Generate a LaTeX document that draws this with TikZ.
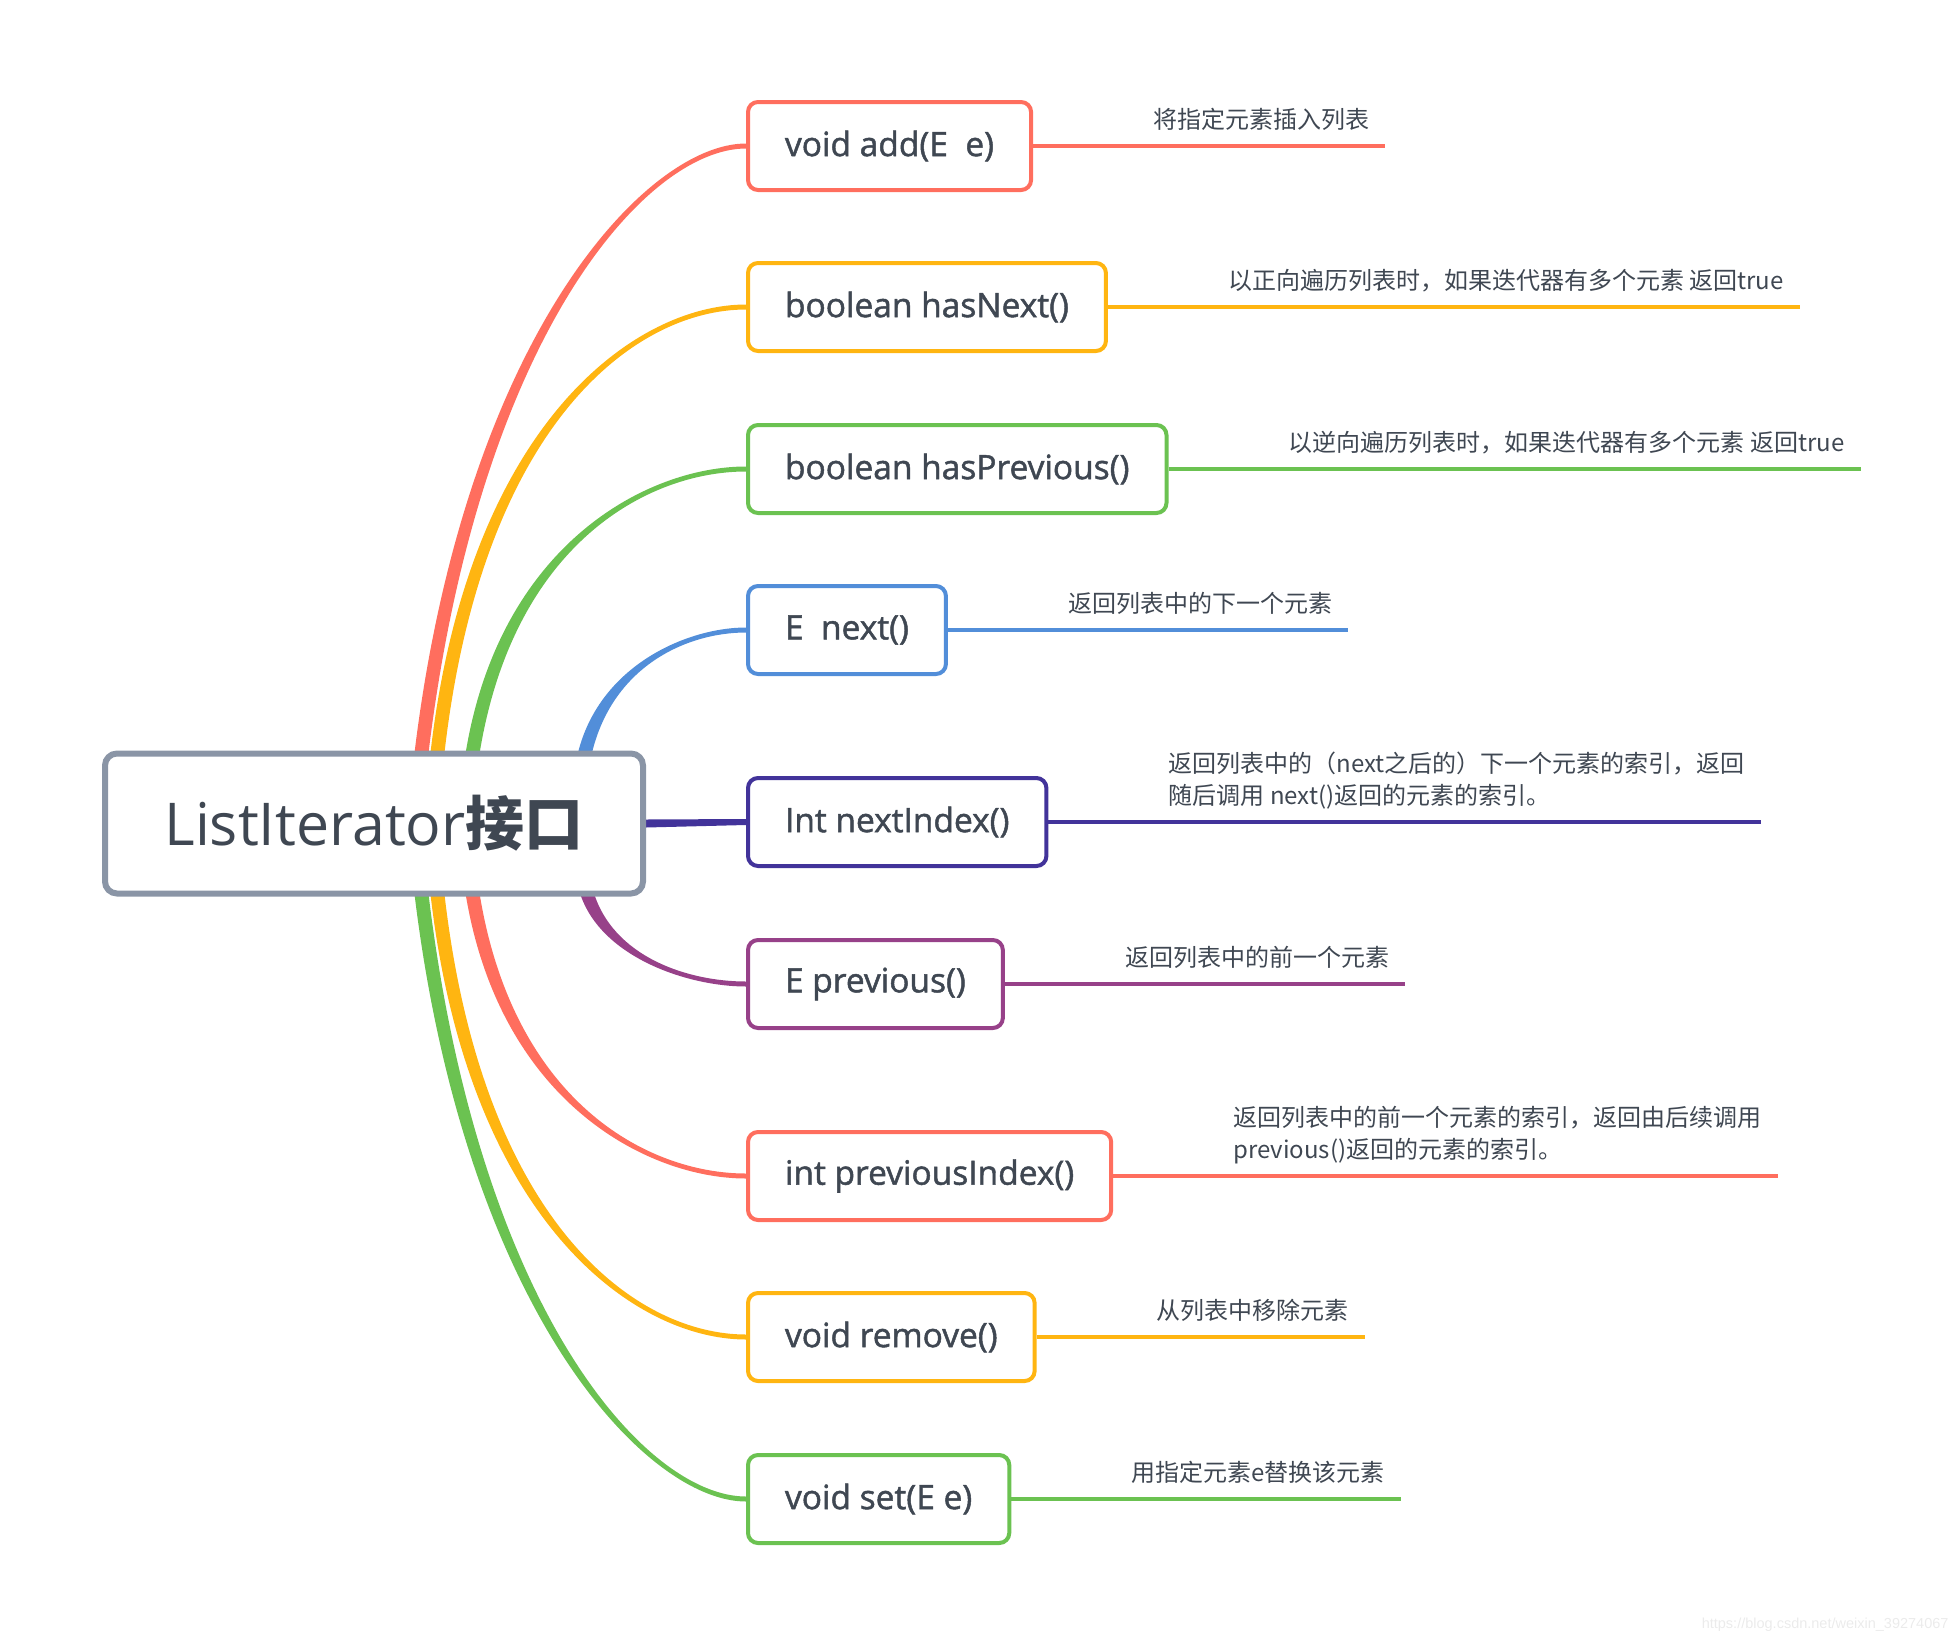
\documentclass[tikz,border=0pt]{standalone}
\usepackage{fontspec}
\setmainfont{Open Sans}
\newfontfamily\cjk{Noto Sans CJK SC}
\newfontfamily\topicfont[FakeBold=1.4]{Open Sans}
\newfontfamily\wmfont{Liberation Sans}
\usepackage{tikz}
\usetikzlibrary{positioning, backgrounds}

\definecolor{mmred}{HTML}{FF6E5E}
\definecolor{mmorange}{HTML}{FFB511}
\definecolor{mmgreen}{HTML}{6BC251}
\definecolor{mmblue}{HTML}{528ED9}
\definecolor{mmindigo}{HTML}{42339A}
\definecolor{mmpurple}{HTML}{974189}
\definecolor{mmgray}{HTML}{8A95A6}
\definecolor{mmtext}{HTML}{3F4752}

\tikzset{
  rootbox/.style={rectangle, rounded corners=12pt, draw=mmgray, line width=6pt, fill=white,
                  text=mmtext, minimum width=538pt, minimum height=140pt,
                  font=\fontsize{59}{70}\selectfont},
  topic/.style={rectangle, rounded corners=10pt, draw=#1, line width=4pt, fill=white,
                text=mmtext, anchor=west, inner xsep=37pt, minimum height=88pt,
                font=\topicfont\fontsize{33.5}{40}\selectfont},
  note/.style={text=mmtext, inner xsep=0pt, inner ysep=9pt, text depth=8pt, align=left,
               font=\cjk\fontsize{24}{32.5}\selectfont},
  noteline/.style={line width=3.5pt, draw=#1},
  wmark/.style={text=black!8, font=\wmfont\fontsize{14.5}{17}\selectfont},
}

\begin{document}
\begin{tikzpicture}[x=1pt, y=-1pt]
  \useasboundingbox (0,0) rectangle (1960,1644);

  %% ---- ROOT ----
  \node[rootbox] (root) at (374,823.5) {ListIterator{\cjk\bfseries 接口}};

  %% ---- TOPICS ----
  \node[topic=mmred]    (add)     at (746,146)  {void add(E\ \ e)};
  \node[topic=mmorange] (hasnext) at (746,307)  {boolean hasNext()};
  \node[topic=mmgreen]  (hasprev) at (746,469)  {boolean hasPrevious()};
  \node[topic=mmblue]   (next)    at (746,630)  {E\ \ next()};
  \node[topic=mmindigo] (nextidx) at (746,822)  {Int nextIndex()};
  \node[topic=mmpurple] (prev)    at (746,984)  {E previous()};
  \node[topic=mmred]    (previdx) at (746,1176) {int previousIndex()};
  \node[topic=mmorange] (remove)  at (746,1337) {void remove()};
  \node[topic=mmgreen]  (set)     at (746,1499) {void set(E e)};

  %% ---- NOTES ----
  \node[note, above right=0pt and 120pt of add.east]     (addnote)     {将指定元素插入列表};
  \node[note, above right=0pt and 120pt of hasnext.east] (hasnextnote) {以正向遍历列表时，如果迭代器有多个元素 返回true};
  \node[note, above right=0pt and 120pt of hasprev.east] (hasprevnote) {以逆向遍历列表时，如果迭代器有多个元素 返回true};
  \node[note, above right=0pt and 120pt of next.east]    (nextnote)    {返回列表中的下一个元素};
  \node[note, above right=0pt and 120pt of nextidx.east] (nextidxnote) {返回列表中的（next之后的）下一个元素的索引，返回\\随后调用 next()返回的元素的索引。};
  \node[note, above right=0pt and 120pt of prev.east]    (prevnote)    {返回列表中的前一个元素};
  \node[note, above right=0pt and 120pt of previdx.east] (previdxnote) {返回列表中的前一个元素的索引，返回由后续调用\\previous()返回的元素的索引。};
  \node[note, above right=0pt and 120pt of remove.east]  (removenote)  {从列表中移除元素};
  \node[note, above right=0pt and 120pt of set.east]     (setnote)     {用指定元素e替换该元素};

  \draw[noteline=mmred]    (add.east)     -- ([xshift=16pt]addnote.south east);
  \draw[noteline=mmorange] (hasnext.east) -- ([xshift=16pt]hasnextnote.south east);
  \draw[noteline=mmgreen]  (hasprev.east) -- ([xshift=16pt]hasprevnote.south east);
  \draw[noteline=mmblue]   (next.east)    -- ([xshift=16pt]nextnote.south east);
  \draw[noteline=mmindigo] (nextidx.east) -- ([xshift=16pt]nextidxnote.south east);
  \draw[noteline=mmpurple] (prev.east)    -- ([xshift=16pt]prevnote.south east);
  \draw[noteline=mmred]    (previdx.east) -- ([xshift=16pt]previdxnote.south east);
  \draw[noteline=mmorange] (remove.east)  -- ([xshift=16pt]removenote.south east);
  \draw[noteline=mmgreen]  (set.east)     -- ([xshift=16pt]setnote.south east);

  %% ---- BRANCHES ----
  \coordinate (u1) at (421,757); \coordinate (u2) at (437,757);
  \coordinate (u3) at (472,757); \coordinate (u4) at (584,757);
  \coordinate (d1) at (421,890); \coordinate (d2) at (437,890);
  \coordinate (d3) at (472,890); \coordinate (d4) at (586,890);

  \begin{scope}[on background layer]
    \fill[mmred] ([xshift=-7pt]u1) .. controls +(50,-420) and +(-100,0) .. ([yshift=2.5pt]add.west)
      -- ([yshift=-2.5pt]add.west) .. controls +(-100,0) and +(50,-420) .. ([xshift=7pt]u1) -- cycle;
    \fill[mmorange] ([xshift=-7pt]u2) .. controls +(37,-333) and +(-111,0) .. ([yshift=2.5pt]hasnext.west)
      -- ([yshift=-2.5pt]hasnext.west) .. controls +(-111,0) and +(37,-333) .. ([xshift=7pt]u2) -- cycle;
    \fill[mmgreen] ([xshift=-7pt]u3) .. controls +(33,-212) and +(-99,0) .. ([yshift=2.5pt]hasprev.west)
      -- ([yshift=-2.5pt]hasprev.west) .. controls +(-99,0) and +(33,-212) .. ([xshift=7pt]u3) -- cycle;
    \fill[mmblue] ([xshift=-7pt]u4) .. controls +(20,-91) and +(-59,0) .. ([yshift=2.5pt]next.west)
      -- ([yshift=-2.5pt]next.west) .. controls +(-59,0) and +(20,-91) .. ([xshift=7pt]u4) -- cycle;

    \fill[mmindigo] ([yshift=4pt]root.east) -- ([yshift=3pt]nextidx.west)
      -- ([yshift=-3pt]nextidx.west) -- ([yshift=-4pt]root.east) -- cycle;

    \fill[mmgreen] ([xshift=-7pt]d1) .. controls +(50,420) and +(-100,0) .. ([yshift=-2.5pt]set.west)
      -- ([yshift=2.5pt]set.west) .. controls +(-100,0) and +(50,420) .. ([xshift=7pt]d1) -- cycle;
    \fill[mmorange] ([xshift=-7pt]d2) .. controls +(37,332) and +(-111,0) .. ([yshift=-2.5pt]remove.west)
      -- ([yshift=2.5pt]remove.west) .. controls +(-111,0) and +(37,332) .. ([xshift=7pt]d2) -- cycle;
    \fill[mmred] ([xshift=-7pt]d3) .. controls +(33,211) and +(-99,0) .. ([yshift=-2.5pt]previdx.west)
      -- ([yshift=2.5pt]previdx.west) .. controls +(-99,0) and +(33,211) .. ([xshift=7pt]d3) -- cycle;
    \fill[mmpurple] ([xshift=-7pt]d4) .. controls +(19,67) and +(-58,0) .. ([yshift=-2.5pt]prev.west)
      -- ([yshift=2.5pt]prev.west) .. controls +(-58,0) and +(19,67) .. ([xshift=7pt]d4) -- cycle;
  \end{scope}

  %% ---- WATERMARK ----
  \node[wmark, anchor=east] (wm) at (1952,1625) {https://blog.csdn.net/weixin\_39274067};

\end{tikzpicture}
\end{document}
